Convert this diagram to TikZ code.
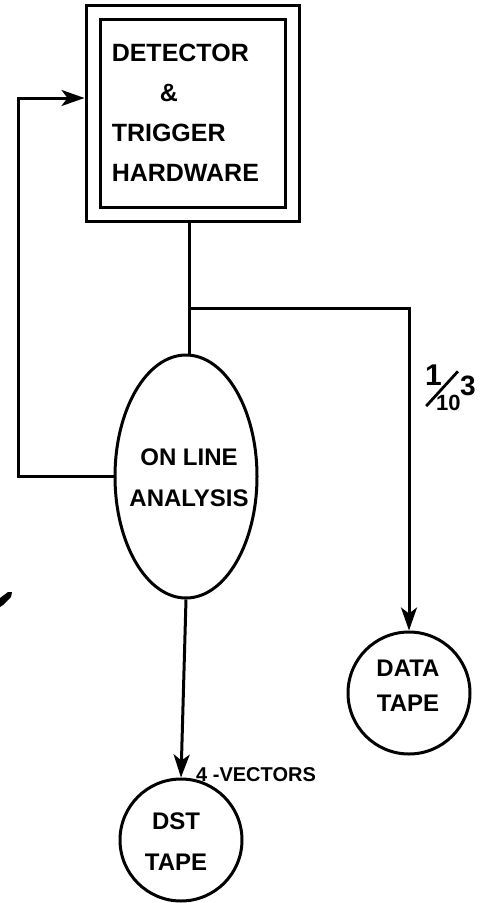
\documentclass[tikz,border=0pt]{standalone}
\usepackage{fontspec}
\setmainfont{Liberation Sans}
\usepackage{graphicx}
\usetikzlibrary{shapes.geometric,arrows.meta}
\begin{document}
\begin{tikzpicture}[x=1pt,y=-1pt,
  ln/.style={line width=3pt},
  arr/.style={ln,-{Stealth[length=23pt,width=16pt,inset=6pt]}},
  hwbox/.style={draw,line width=3pt,double,double distance=11pt,outer sep=8.5pt,
    minimum width=199.5pt,minimum height=202pt,inner sep=0pt},
  oval/.style={draw,ellipse,line width=3pt,minimum width=142pt,minimum height=243pt,inner sep=0pt},
  tape/.style={draw,circle,line width=3pt,minimum size=122pt,inner sep=0pt},
  tapetext/.style={align=center,font=\bfseries\fontsize{24}{35}\selectfont,inner sep=0pt}]
\useasboundingbox (0,0) rectangle (483,903);

% boxes and shapes
\node[hwbox,text width=162pt,align=left,font=\bfseries\fontsize{25}{40}\selectfont] (box) at (192.75,113)
  {DETECTOR\\\hspace*{48pt}\&\\TRIGGER\\HARDWARE};
\node[oval] (onl) at (186,476.5) {};
\node[align=center,font=\bfseries\fontsize{24}{41}\selectfont,inner sep=0pt] (onltxt) at (189,478) {ON LINE\\ANALYSIS};
\node[tape] (data) at (409,693) {};
\node[tapetext] (datatxt) at (408,685.5) {DATA\\TAPE};
\node[tape] (dst) at (181,840) {};
\node[tapetext,font=\bfseries\fontsize{24}{41}\selectfont] (dsttxt) at (176,841.5) {DST\\TAPE};

% labels
\node[anchor=base west,font=\bfseries\fontsize{20}{20}\selectfont,inner sep=0pt] (vec) at (196,781) {4 -VECTORS};
\node[anchor=base west,inner sep=0pt,font=\bfseries] (ratio) at (425,407)
  {\makebox[0pt][l]{\raisebox{22pt}{\fontsize{30}{30}\selectfont 1}}%
   \makebox[0pt][l]{\rotatebox{47.6}{\rule{47pt}{2.8pt}}}%
   \makebox[0pt][l]{\kern11pt\raisebox{-3pt}{\fontsize{22}{22}\selectfont 10}}%
   \kern35pt\raisebox{12pt}{\fontsize{28}{28}\selectfont 3}};

% connectors
\coordinate (br) at (189,308);
\coordinate (fbl) at (18,98);
\draw[ln] (box.south -| br) -- (br) -- (onl.north -| br);
\draw[arr] (br) -| (data.north);
\draw[arr] (onl.west) -| (fbl) -- (box.west |- fbl);
\draw[arr] (onl.south) -- (dst.north);

% stray mark at left edge
\fill (0,598) -- (8,592) -- (12,592) -- (11,597) -- (3,605) -- (0,607) -- cycle;
\end{tikzpicture}
\end{document}
